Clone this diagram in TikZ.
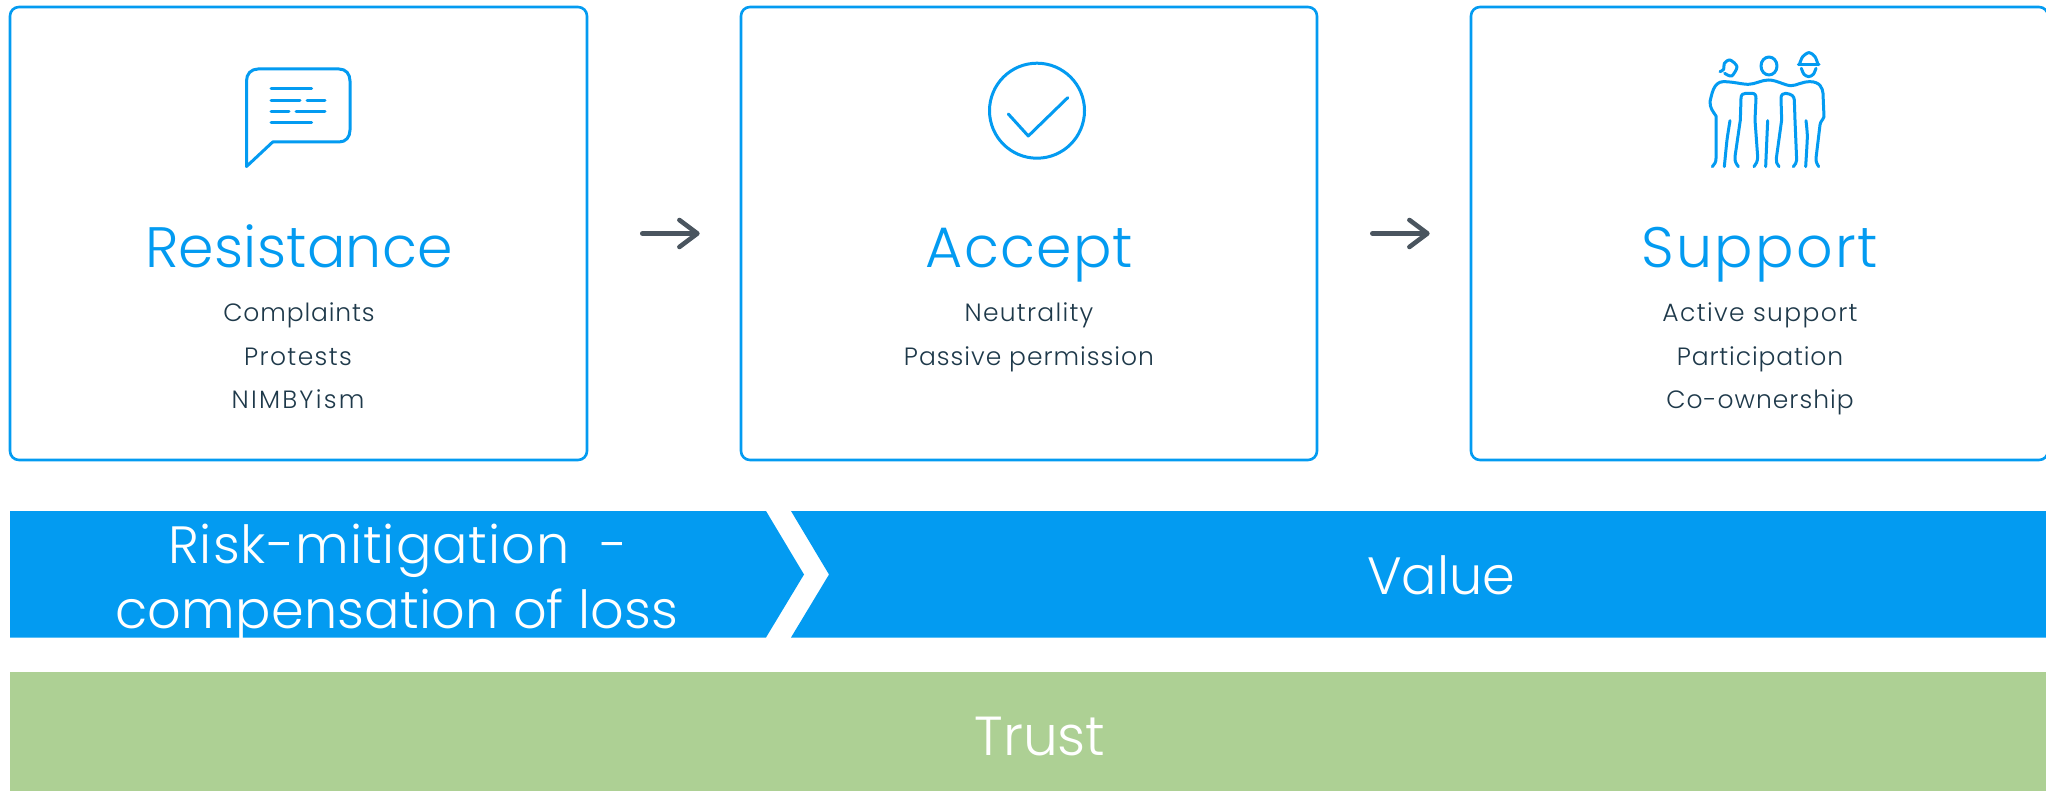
\documentclass[tikz,border=0pt]{standalone}
\usepackage{fontspec}
\setmainfont{Poppins Light}
\usetikzlibrary{arrows.meta}
\definecolor{skyb}{HTML}{039BF1}
\definecolor{leaf}{HTML}{ADD094}
\definecolor{slate}{HTML}{4A555F}
\newcommand{\ls}[1]{\addfontfeature{LetterSpace=#1}}
\tikzset{
 card/.style={draw=skyb,line width=2.6pt,rounded corners=9pt,fill=white,inner sep=0pt},
 flow/.style={draw=slate,line width=4.6pt,line cap=round,line join=round,-{Straight Barb[length=18pt,width=27pt,line cap=round,line join=round]}},
 icon/.style={draw=skyb,line width=3pt,line cap=round,line join=round},
 head/.style={text=skyb,font=\fontsize{57}{57}\selectfont,inner sep=0pt,anchor=base},
 sub/.style={text=black!75!skyb!60!slate,font=\fontsize{25}{25}\selectfont,inner sep=0pt,anchor=base},
 band/.style={text=white,font=\fontsize{52.5}{52.5}\selectfont,inner sep=0pt,anchor=base},
}
\begin{document}
\begin{tikzpicture}[x=1pt,y=-1pt]
\useasboundingbox (0,0) rectangle (2046,791);
\node[card,minimum width=577pt,minimum height=453pt] (res) at (298.5,233.5) {};
\node[card,minimum width=576pt,minimum height=453pt] (acc) at (1029,233.5) {};
\node[card,minimum width=577pt,minimum height=453pt] (sup) at (1759.5,233.5) {};
\draw[flow,shorten <=54pt,shorten >=40pt] (res) -- (acc);
\draw[flow,shorten <=54pt,shorten >=40pt] (acc) -- (sup);
% chat icon
\draw[icon] (246.5,166.5) -- (246.5,81) .. controls (246.5,74) and (251,69) .. (258,69) -- (339,69) .. controls (346,69) and (350,74) .. (350,81) -- (350,130) .. controls (350,137) and (346,142) .. (339,142) -- (272.7,142) -- cycle;
\draw[icon] (271,89) -- (311.7,89) (271,100.3) -- (300,100.3) (307,100.3) -- (325,100.3) (271,111.3) -- (289,111.3) (296,111.3) -- (325,111.3) (271,122.7) -- (311.7,122.7);
% check icon
\draw[icon] (1037,110.7) circle[radius=47.5];
\draw[icon] (1008.3,114) -- (1028.3,136) -- (1067.7,97.7);
% people icon
\begin{scope}[shift={(1680,30)},x=0.3333pt,y=-0.3333pt]
\draw[icon] plot[smooth] coordinates {(120,125) (131,118) (133,100) (150,90) (171,110) (155,138) (134,130)};
\draw[icon] (267,108) ellipse[x radius=24,y radius=27];
\draw[icon] (355,104) -- (417,104);
\draw[icon] plot[smooth] coordinates {(358,104) (368,80) (387,68) (405,80) (414,104)};
\draw[icon] plot[smooth] coordinates {(364,115) (372,133) (386,140) (400,133) (408,115)};
\draw[icon] (97,410) .. controls (104,403) and (108,396) .. (108,385) -- (108,258) .. controls (98,243) and (90,235) .. (90,215) .. controls (95,195) and (100,155) .. (130,155) .. controls (160,155) and (185,163) .. (205,163) .. controls (225,163) and (245,150) .. (265,150) .. controls (290,150) and (315,167) .. (333,167) .. controls (350,167) and (365,155) .. (390,155) .. controls (420,155) and (428,175) .. (429,190) -- (432,260) .. controls (428,272) and (422,272) .. (420,285) -- (408,385) .. controls (408,398) and (412,403) .. (416,410);
\draw[icon] (175,410) .. controls (168,400) and (164,395) .. (165,380) -- (181,270) -- (183,205) .. controls (183,193) and (190,190) .. (197,190) -- (215,190) .. controls (225,190) and (228,195) .. (228,205) -- (225,270) -- (233,380) .. controls (233,395) and (228,402) .. (222,410);
\draw[icon] (297,410) .. controls (290,402) and (288,395) .. (289,385) -- (305,270) -- (303,205) .. controls (303,193) and (310,190) .. (317,190) .. controls (335,192) and (342,198) .. (343,210) -- (345,270) -- (350,390) .. controls (350,398) and (345,404) .. (340,410);
\draw[icon] plot[smooth,tension=0.4] coordinates {(150,272) (141,330) (133,410)};
\draw[icon] (263,272) -- (257,410);
\draw[icon] plot[smooth,tension=0.4] coordinates {(378,272) (382,320) (377,410)};
\end{scope}
% card text
\node[head] (t1) at (299,268) {\ls{0.5}Resistance};
\node[sub] (t1a) at (299,322) {\ls{3.5}Complaints};
\node[sub] (t1b) at (298,366) {\ls{5.5}Protests};
\node[sub] (t1c) at (298,409) {\ls{9}NIMBYism};
\node[head] (t2) at (1029.5,268) {\ls{2.2}Accept};
\node[sub] (t2a) at (1029,322) {\ls{5}Neutrality};
\node[sub] (t2b) at (1029,366) {\ls{4}Passive permission};
\node[head] (t3) at (1760,268) {\ls{3.8}Support};
\node[sub] (t3a) at (1760,322) {\ls{5.5}Active support};
\node[sub] (t3b) at (1760,366) {\ls{3.5}Participation};
\node[sub] (t3c) at (1760,409) {\ls{4}Co-ownership};
% bands
\fill[skyb] (10,511) -- (766,511) -- (804,574.5) -- (766,637.5) -- (10,637.5) -- cycle;
\fill[skyb] (791,511) -- (2046,511) -- (2046,637.5) -- (791,637.5) -- (829,574.5) -- cycle;
\fill[leaf] (10,671.5) rectangle (2046,791);
\node[band] (b1) at (398,563) {\ls{2}Risk-mitigation\ \ -};
\node[band] (b2) at (397,628) {\ls{0.4}compensation of loss};
\node[band] (b3) at (1441,594) {Value};
\node[band,font=\fontsize{55}{55}\selectfont] (b4) at (1040,755) {Trust};
\end{tikzpicture}
\end{document}
